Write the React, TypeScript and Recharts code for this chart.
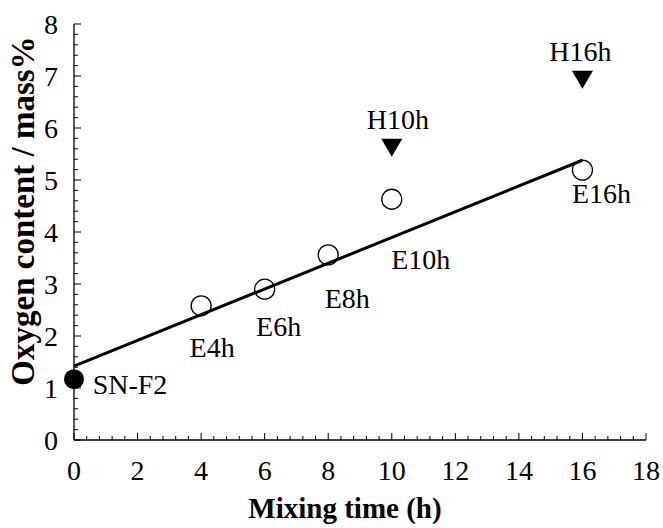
import { ScatterChart, Scatter, XAxis, YAxis, ReferenceLine } from 'recharts'

const FONT = '"Liberation Serif", "Times New Roman", serif'

// tick values (majors are labelled, the rest are minor ticks)
const MIX_TIME_MAJOR = [0, 2, 4, 6, 8, 10, 12, 14, 16, 18]
const OXYGEN_MAJOR = [0, 1, 2, 3, 4, 5, 6, 7, 8]

// starting powder
const startPowder = [{ name: 'SN-F2', time: 0, oxygen: 1.17 }]

// E series (open circles)
const eSamples = [
    { name: 'E4h', time: 4, oxygen: 2.58 },
    { name: 'E6h', time: 6, oxygen: 2.9 },
    { name: 'E8h', time: 8, oxygen: 3.56 },
    { name: 'E10h', time: 10, oxygen: 4.63 },
    { name: 'E16h', time: 16, oxygen: 5.19 },
]

// H series (down triangles)
const hSamples = [
    { name: 'H10h', time: 10, oxygen: 5.62 },
    { name: 'H16h', time: 16, oxygen: 6.93 },
]

// fitted line end points
const fitLine = [
    { x: 0, y: 1.42 },
    { x: 16, y: 5.38 },
]

// where each point's name sits relative to the marker (px)
const LABEL_OFFSET: Record<string, [number, number]> = {
    'SN-F2': [56, 5],
    E4h: [11, 41],
    E6h: [14, 37],
    E8h: [19, 43],
    E10h: [29, 60],
    E16h: [19, 23],
    H10h: [6, -29],
    H16h: [-2, -28],
}

const withMinor = (majors: number[], parts: number) => {
    const out: number[] = []
    for (let i = 0; i < majors.length - 1; i++) {
        const step = (majors[i + 1] - majors[i]) / parts
        for (let k = 0; k < parts; k++) out.push(+(majors[i] + k * step).toFixed(4))
    }
    out.push(majors[majors.length - 1])
    return out
}

const X_TICKS = withMinor(MIX_TIME_MAJOR, 5)
const Y_TICKS = withMinor(OXYGEN_MAJOR, 5)

const isMajor = (v: number, majors: number[]) => majors.some(m => Math.abs(m - v) < 1e-6)

const XTick = ({ x, y, payload, top }: any) => {
    const major = isMajor(payload.value, MIX_TIME_MAJOR)
    const len = major ? 7 : 4
    return (
        <g>
            <line x1={x} x2={x} y1={y} y2={top ? y + len : y - len} stroke="#000" strokeWidth={1} />
            {!top && major && (
                <text x={x} y={y + 20} dy="0.71em" textAnchor="middle" fontFamily={FONT} fontSize={28} fill="#000">
                    {payload.value}
                </text>
            )}
        </g>
    )
}

const YTick = ({ x, y, payload, right }: any) => {
    const major = isMajor(payload.value, OXYGEN_MAJOR)
    const len = major ? 7 : 4
    return (
        <g>
            <line x1={x} x2={right ? x - len : x + len} y1={y} y2={y} stroke="#000" strokeWidth={1} />
            {!right && major && (
                <text x={x - 16} y={y} dy="0.35em" textAnchor="end" fontFamily={FONT} fontSize={28} fill="#000">
                    {payload.value}
                </text>
            )}
        </g>
    )
}

const PointName = ({ cx, cy, name }: any) => {
    const [dx, dy] = LABEL_OFFSET[name] || [0, 0]
    return (
        <text x={cx + dx} y={cy + dy} dy="0.35em" textAnchor="middle" fontFamily={FONT} fontSize={28} fill="#000">
            {name}
        </text>
    )
}

const FilledCircle = (p: any) => (
    <g>
        <circle cx={p.cx} cy={p.cy} r={10} fill="#000" />
        <PointName cx={p.cx} cy={p.cy} name={p.payload.name} />
    </g>
)

const OpenCircle = (p: any) => (
    <g>
        <circle cx={p.cx} cy={p.cy} r={10} fill="none" stroke="#000" strokeWidth={1.3} />
        <PointName cx={p.cx} cy={p.cy} name={p.payload.name} />
    </g>
)

const DownTriangle = (p: any) => (
    <g>
        <path d={`M${p.cx - 10.5},${p.cy - 9} L${p.cx + 10.5},${p.cy - 9} L${p.cx},${p.cy + 9} Z`} fill="#000" />
        <PointName cx={p.cx} cy={p.cy} name={p.payload.name} />
    </g>
)

const YTitle = ({ viewBox }: any) => {
    const cx = viewBox.x + 22
    const cy = viewBox.y + viewBox.height / 2 - 21
    return (
        <text
            x={cx}
            y={cy}
            transform={`rotate(-90, ${cx}, ${cy})`}
            dy="0.35em"
            textAnchor="middle"
            fontFamily={FONT}
            fontSize={33}
            fontWeight="bold"
            fill="#000"
        >
            Oxygen content / mass%
        </text>
    )
}

const XTitle = ({ viewBox }: any) => {
    const cx = viewBox.x + viewBox.width / 2 - 15
    return (
        <text x={cx} y={viewBox.y + 68} dy="0.35em" textAnchor="middle" fontFamily={FONT} fontSize={29} fontWeight="bold" fill="#000">
            Mixing time (h)
        </text>
    )
}

export default function App() {
    return (
        <div style={{ width: 663, height: 528, background: '#fff', fontFamily: FONT }}>
            <style>{'body{margin:0}'}</style>
            <ScatterChart width={663} height={528} margin={{ top: 24, right: 17, bottom: 0, left: 0 }}>
                <XAxis
                    xAxisId="b"
                    type="number"
                    dataKey="time"
                    domain={[0, 18]}
                    ticks={X_TICKS}
                    interval={0}
                    height={88}
                    tickSize={0}
                    tickMargin={0}
                    tickLine={false}
                    axisLine={{ stroke: '#000', strokeWidth: 1.3 }}
                    tick={<XTick />}
                    label={{ content: <XTitle /> }}
                />
                <XAxis
                    xAxisId="t"
                    orientation="top"
                    type="number"
                    domain={[0, 18]}
                    ticks={X_TICKS}
                    interval={0}
                    allowDataOverflow
                    height={0}
                    tickSize={0}
                    tickMargin={0}
                    tickLine={false}
                    axisLine={{ stroke: '#000', strokeWidth: 1.3 }}
                    tick={<XTick top />}
                />
                <YAxis
                    yAxisId="l"
                    type="number"
                    dataKey="oxygen"
                    domain={[0, 8]}
                    ticks={Y_TICKS}
                    interval={0}
                    width={74}
                    tickSize={0}
                    tickMargin={0}
                    tickLine={false}
                    axisLine={{ stroke: '#000', strokeWidth: 1.3 }}
                    tick={<YTick />}
                    label={{ content: <YTitle /> }}
                />
                <YAxis
                    yAxisId="r"
                    orientation="right"
                    type="number"
                    domain={[0, 8]}
                    ticks={Y_TICKS}
                    interval={0}
                    allowDataOverflow
                    width={0}
                    tickSize={0}
                    tickMargin={0}
                    tickLine={false}
                    axisLine={{ stroke: '#000', strokeWidth: 1.3 }}
                    tick={<YTick right />}
                />
                <ReferenceLine
                    xAxisId="b"
                    yAxisId="l"
                    segment={fitLine}
                    stroke="#000"
                    strokeWidth={3}
                />
                <Scatter xAxisId="b" yAxisId="l" data={startPowder} shape={FilledCircle} isAnimationActive={false} />
                <Scatter xAxisId="b" yAxisId="l" data={eSamples} shape={OpenCircle} isAnimationActive={false} />
                <Scatter xAxisId="b" yAxisId="l" data={hSamples} shape={DownTriangle} isAnimationActive={false} />
            </ScatterChart>
        </div>
    )
}
